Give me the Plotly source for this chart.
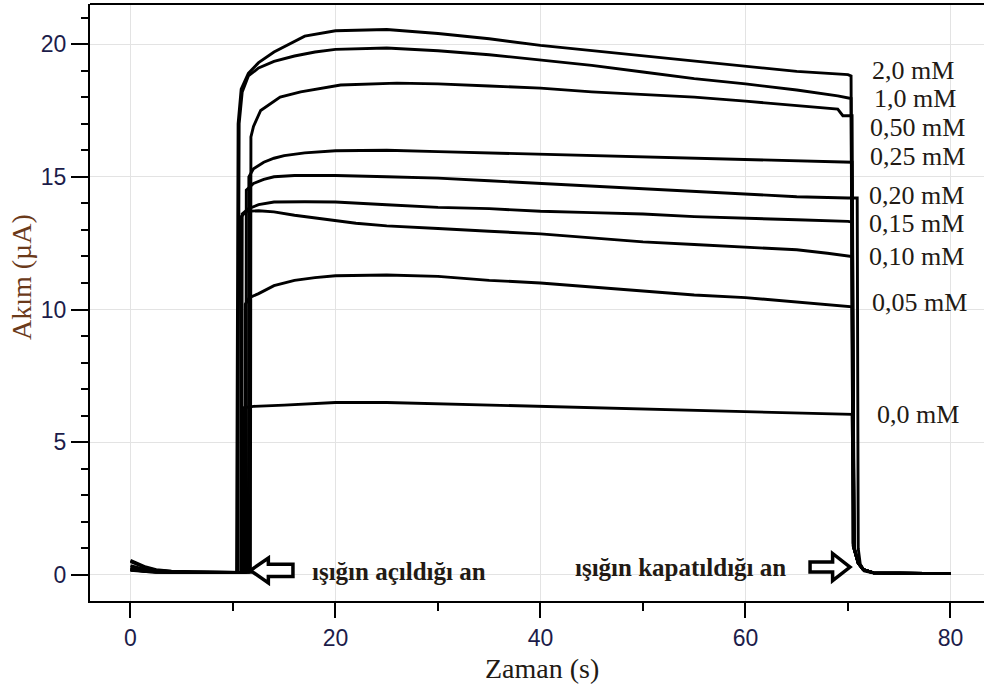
import plotly.graph_objects as go

# ---------------- data ----------------
labels = ["2,0 mM", "1,0 mM", "0,50 mM", "0,25 mM", "0,20 mM",
          "0,15 mM", "0,10 mM", "0,05 mM", "0,0 mM"]

t_pre = [0, 0.7, 1.5, 2.5, 4, 6, 8, 10]

# 2,0 mM
t_20 = t_pre + [10.35, 10.5, 10.8, 11.5, 12.5, 14, 15.5, 17, 20, 25, 30, 35, 40, 45, 50, 55, 60, 65, 70, 70.3, 70.5, 71.0, 71.5, 72.5, 80]
i_20 = [0.55, 0.42, 0.30, 0.20, 0.14, 0.12, 0.10, 0.10,
        0.10, 17.0, 18.3, 18.9, 19.3, 19.7, 20.0, 20.3, 20.5, 20.55, 20.4, 20.2, 19.95, 19.75, 19.55, 19.35, 19.15, 18.97, 18.85, 18.8, 1.2, 0.5, 0.2, 0.08, 0.05]
# 1,0 mM
t_10 = t_pre + [10.45, 10.6, 10.9, 11.5, 12.5, 14, 16, 18, 20, 25, 30, 35, 40, 45, 50, 55, 60, 65, 69, 70.3, 70.5, 71.0, 71.5, 72.5, 80]
i_10 = [0.50, 0.38, 0.27, 0.18, 0.13, 0.11, 0.10, 0.10,
        0.10, 17.0, 18.2, 18.8, 19.1, 19.35, 19.55, 19.7, 19.8, 19.85, 19.75, 19.6, 19.4, 19.2, 18.95, 18.7, 18.5, 18.27, 18.05, 17.95, 1.1, 0.45, 0.2, 0.08, 0.05]
# 0,50 mM
t_05 = t_pre + [11.7, 11.75, 12.0, 12.7, 14.6, 16.6, 20.5, 26, 30, 35, 40, 45, 50, 55, 60, 65, 69, 69.5, 70.4, 70.6, 71.0, 71.5, 72.5, 80]
i_05 = [0.35, 0.28, 0.20, 0.15, 0.12, 0.10, 0.10, 0.10,
        0.10, 16.5, 16.9, 17.5, 18.0, 18.2, 18.46, 18.53, 18.5, 18.42, 18.34, 18.2, 18.1, 18.0, 17.85, 17.68, 17.55, 17.3, 17.3, 1.0, 0.45, 0.2, 0.08, 0.05]
# 0,25 mM
t_025 = t_pre + [11.5, 11.55, 12, 13, 14, 15, 17, 20, 25, 30, 35, 40, 45, 50, 55, 60, 65, 70, 70.4, 70.6, 71.0, 71.5, 72.5, 80]
i_025 = [0.30, 0.22, 0.17, 0.13, 0.11, 0.10, 0.10, 0.10,
         0.10, 15.0, 15.3, 15.55, 15.7, 15.8, 15.9, 15.98, 16.0, 15.95, 15.9, 15.85, 15.8, 15.75, 15.7, 15.65, 15.6, 15.55, 15.55, 1.0, 0.45, 0.2, 0.08, 0.05]
# 0,20 mM
t_020 = t_pre + [11.25, 11.3, 12, 13, 14, 16, 20, 25, 30, 35, 40, 45, 50, 55, 60, 65, 70, 70.9, 71.0, 71.2, 71.6, 72.5, 80]
i_020 = [0.20, 0.17, 0.14, 0.12, 0.10, 0.10, 0.10, 0.10,
         0.10, 14.5, 14.75, 14.9, 15.0, 15.05, 15.05, 15.0, 14.95, 14.85, 14.75, 14.65, 14.55, 14.45, 14.35, 14.25, 14.2, 14.2, 1.0, 0.4, 0.15, 0.07, 0.05]
# 0,15 mM
t_015 = t_pre + [10.85, 10.9, 11.5, 12.5, 14, 17, 20, 25, 30, 35, 40, 45, 50, 55, 60, 65, 70, 70.4, 70.6, 71.0, 71.5, 72.5, 80]
i_015 = [0.20, 0.17, 0.14, 0.12, 0.10, 0.10, 0.10, 0.10,
         0.10, 13.6, 13.8, 13.95, 14.05, 14.06, 14.05, 13.95, 13.85, 13.8, 13.7, 13.65, 13.6, 13.5, 13.45, 13.38, 13.32, 13.3, 1.0, 0.45, 0.2, 0.08, 0.05]
# 0,10 mM
t_010 = t_pre + [10.75, 10.8, 11.3, 12.5, 14, 16, 18, 20, 22, 25, 27, 30, 35, 40, 45, 50, 55, 60, 65, 68, 70, 70.4, 70.6, 71.0, 71.5, 72.5, 80]
i_010 = [0.22, 0.18, 0.15, 0.12, 0.10, 0.10, 0.10, 0.10,
         0.10, 13.5, 13.7, 13.72, 13.68, 13.55, 13.45, 13.35, 13.25, 13.15, 13.1, 13.05, 12.95, 12.85, 12.7, 12.55, 12.45, 12.35, 12.25, 12.12, 12.0, 12.0, 1.0, 0.45, 0.2, 0.08, 0.05]
# 0,05 mM
t_005 = t_pre + [11.15, 11.2, 11.6, 12.5, 14, 16, 18, 20, 25, 30, 35, 40, 45, 50, 55, 60, 65, 70, 70.4, 70.6, 71.0, 71.5, 72.5, 80]
i_005 = [0.20, 0.16, 0.13, 0.11, 0.10, 0.10, 0.10, 0.10,
         0.10, 10.2, 10.45, 10.6, 10.9, 11.1, 11.2, 11.27, 11.3, 11.25, 11.1, 11.0, 10.85, 10.7, 10.55, 10.45, 10.28, 10.1, 10.1, 1.0, 0.45, 0.2, 0.08, 0.05]
# 0,0 mM
t_000 = t_pre + [10.95, 11.0, 12, 15, 20, 25, 30, 35, 40, 45, 50, 55, 60, 65, 70, 70.4, 70.6, 71.0, 71.5, 72.5, 80]
i_000 = [0.18, 0.15, 0.12, 0.10, 0.10, 0.10, 0.10, 0.10,
         0.10, 6.3, 6.35, 6.4, 6.5, 6.5, 6.45, 6.4, 6.35, 6.3, 6.25, 6.2, 6.15, 6.1, 6.05, 6.05, 1.0, 0.45, 0.2, 0.08, 0.05]

series_t = [t_20, t_10, t_05, t_025, t_020, t_015, t_010, t_005, t_000]
series_i = [i_20, i_10, i_05, i_025, i_020, i_015, i_010, i_005, i_000]

x_ticks = [0, 20, 40, 60, 80]
y_ticks = [0, 5, 10, 15, 20]

note_on = "ışığın açıldığı an"
note_off = "ışığın kapatıldığı an"

# ---------------- layout helpers (positions, not data) ----------------
label_pos_x = [72.15, 72.34, 71.95, 71.95, 71.85, 71.85, 71.85, 72.15, 72.63]
label_pos_y = [19.0, 17.95, 16.85, 15.75, 14.3, 13.25, 11.98, 10.28, 6.03]

X_RANGE = [-3.95, 83.27]
Y_RANGE = [-0.98, 21.51]

fig = go.Figure()
for t, i in zip(series_t, series_i):
    fig.add_trace(go.Scatter(x=t, y=i, mode="lines",
                             line=dict(color="black", width=2.9),
                             showlegend=False, hoverinfo="skip"))

serif = "Liberation Serif, Times New Roman, serif"
sans = "Liberation Sans, Arial, sans-serif"
tick_col = "#1c1c4a"
text_col = "#221a14"

annotations = []
for lab, lx, ly in zip(labels, label_pos_x, label_pos_y):
    annotations.append(dict(x=lx, y=ly, xref="x", yref="y", text=lab,
                            showarrow=False, xanchor="left", yanchor="middle",
                            font=dict(family=serif, size=26, color=text_col)))

annotations.append(dict(x=17.5, y=0.15, xref="x", yref="y", text="<b>" + note_on + "</b>",
                        showarrow=False, xanchor="left", yanchor="middle",
                        font=dict(family=serif, size=25, color=text_col)))
annotations.append(dict(x=43.2, y=0.30, xref="x", yref="y", text="<b>" + note_off + "</b>",
                        showarrow=False, xanchor="left", yanchor="middle",
                        font=dict(family=serif, size=25, color=text_col)))

# axis titles
annotations.append(dict(x=(542 - 90) / 894, y=(601 - 668) / 597, xref="paper", yref="paper",
                        text="Zaman (s)", showarrow=False, xanchor="center", yanchor="middle",
                        font=dict(family=serif, size=28, color=text_col)))
annotations.append(dict(x=(21 - 90) / 894, y=(601 - 277) / 597, xref="paper", yref="paper",
                        text="Akım (µA)", showarrow=False, xanchor="center", yanchor="middle",
                        textangle=-90,
                        font=dict(family=serif, size=28, color="#6b3a1a")))


def arrow_path(tip, base, tail, cy, head_h, shaft_h):
    return (f"M {tip},{cy} L {base},{cy + head_h} L {base},{cy + shaft_h} "
            f"L {tail},{cy + shaft_h} L {tail},{cy - shaft_h} L {base},{cy - shaft_h} "
            f"L {base},{cy - head_h} Z")


shapes = [
    dict(type="path", xref="x", yref="y", layer="above",
         path=arrow_path(11.7, 13.45, 15.85, 0.17, 0.47, 0.23),
         line=dict(color="black", width=3.5), fillcolor="white"),
    dict(type="path", xref="x", yref="y", layer="above",
         path=arrow_path(70.2, 68.5, 66.3, 0.30, 0.51, 0.19),
         line=dict(color="black", width=3.5), fillcolor="white"),
    # top frame line
    dict(type="line", xref="paper", yref="paper", x0=0, x1=1, y0=1, y1=1,
         line=dict(color="black", width=2), layer="above"),
]

fig.update_layout(
    width=988, height=686,
    margin=dict(l=90, r=4, t=4, b=85),
    paper_bgcolor="white", plot_bgcolor="white",
    annotations=annotations, shapes=shapes,
    showlegend=False,
    xaxis=dict(range=X_RANGE, tickvals=x_ticks, ticktext=[str(v) for v in x_ticks],
               showgrid=True, gridcolor="#e3e3e3", gridwidth=1, zeroline=False,
               showline=True, linecolor="black", linewidth=2,
               ticks="outside", ticklen=15, tickwidth=2, tickcolor="black",
               tickfont=dict(family=sans, size=23, color=tick_col),
               minor=dict(tickvals=[10, 30, 50, 70], ticks="outside", ticklen=8,
                          tickwidth=2, tickcolor="black", showgrid=False)),
    yaxis=dict(range=Y_RANGE, tickvals=y_ticks, ticktext=[str(v) for v in y_ticks],
               showgrid=True, gridcolor="#e3e3e3", gridwidth=1, zeroline=False,
               showline=True, linecolor="black", linewidth=2,
               ticks="outside", ticklen=17, tickwidth=2, tickcolor="black",
               tickfont=dict(family=sans, size=23, color=tick_col),
               minor=dict(dtick=1, tick0=0, ticks="outside", ticklen=7,
                          tickwidth=2, tickcolor="black", showgrid=False)),
)

fig.write_html("out.html")
